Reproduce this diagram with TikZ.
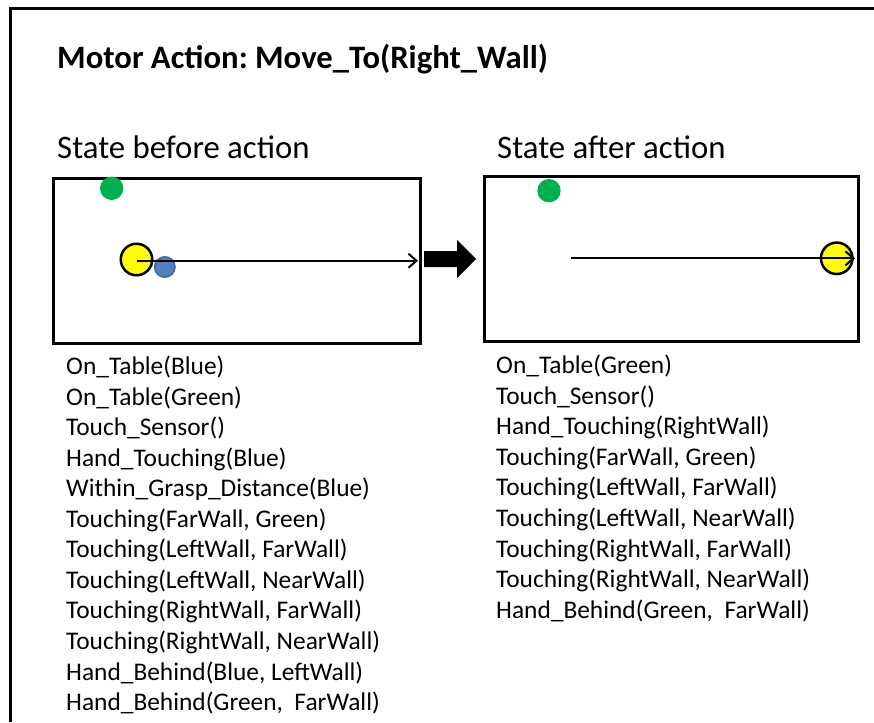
\documentclass[tikz,border=0pt]{standalone}
\usepackage{fontspec}
\setmainfont{Carlito}
\usetikzlibrary{arrows.meta}
\frenchspacing
\definecolor{dotgreen}{HTML}{00B050}
\definecolor{dotyellow}{HTML}{FFFF00}
\definecolor{dotblue}{HTML}{4F81BD}
\definecolor{dotblueedge}{HTML}{41719C}
\tikzset{
  scenebox/.style={draw=black, line width=2.8pt, inner sep=0pt, anchor=north west},
  titletext/.style={anchor=base west, inner sep=0pt, font=\fontsize{32.7}{38}\selectfont\bfseries},
  headtext/.style={anchor=base west, inner sep=0pt, font=\fontsize{32.8}{39}\selectfont},
  listtext/.style={anchor=base west, inner sep=0pt, font=\fontsize{25.4}{30}\selectfont},
  greendot/.style={circle, fill=dotgreen, minimum size=23.4pt, inner sep=0pt},
  hand/.style={circle, fill=dotyellow, draw=black, line width=2.5pt, minimum size=31.5pt, inner sep=0pt},
  bluedot/.style={circle, fill=dotblue, draw=dotblueedge, line width=2pt, minimum size=20pt, inner sep=0pt},
  movearrow/.style={line width=2pt, -{Straight Barb[length=8pt,width=14pt,line width=2pt]}},
}
\begin{document}
\begin{tikzpicture}[x=1pt,y=-1pt]
\useasboundingbox (0,0) rectangle (874,722);
% outer frame
\draw[line width=3pt] (10.5,722) -- (10.5,9) -- (874,9);
% title
\node[titletext] (title) at (57,69) {Motor Action: Move\_To(Right\_Wall)};
% headings
\node[headtext] (hbefore) at (57,159) {State before action};
\node[headtext] (hafter) at (497,158) {State after action};
% scene boxes
\node[scenebox, minimum width=367.6pt, minimum height=165pt] (boxL) at (51.7,176.7) {};
\node[scenebox, minimum width=373.4pt, minimum height=165pt] (boxR) at (483.3,175) {};
% before scene
\node[greendot] (gL) at (111.7,188.3) {};
\node[bluedot] (bL) at (164.8,267) {};
\node[hand] (hL) at (136.5,259.5) {};
\coordinate (endL) at (418,260.7);
\draw[movearrow] (hL.center |- endL) -- (endL);
% block arrow between scenes
\fill[black] (424,251) -- (457,251) -- (457,240) -- (476,259) -- (457,278) -- (457,267) -- (424,267) -- cycle;
% after scene
\node[greendot] (gR) at (549,190.7) {};
\node[hand] (hR) at (836.7,258.3) {};
\coordinate (startR) at (570.7,258.3);
\coordinate (endR) at (855,258.3);
\draw[movearrow] (startR) -- (endR);
% before list
\foreach \t [count=\i from 0] in {
  On\_Table(Blue),
  On\_Table(Green),
  Touch\_Sensor(),
  Hand\_Touching(Blue),
  Within\_Grasp\_Distance(Blue),
  {Touching(FarWall, Green)},
  {Touching(LeftWall, FarWall)},
  {Touching(LeftWall, NearWall)},
  {Touching(RightWall, FarWall)},
  {Touching(RightWall, NearWall)},
  {Hand\_Behind(Blue, LeftWall)},
  {Hand\_Behind(Green, \ FarWall)}}
  \node[listtext] (lb\i) at (66,374.5+30.55*\i) {\t};
% after list
\foreach \t [count=\i from 0] in {
  On\_Table(Green),
  Touch\_Sensor(),
  Hand\_Touching(RightWall),
  {Touching(FarWall, Green)},
  {Touching(LeftWall, FarWall)},
  {Touching(LeftWall, NearWall)},
  {Touching(RightWall, FarWall)},
  {Touching(RightWall, NearWall)},
  {Hand\_Behind(Green, \ FarWall)}}
  \node[listtext] (la\i) at (496,373.5+30.6*\i) {\t};
\end{tikzpicture}
\end{document}
